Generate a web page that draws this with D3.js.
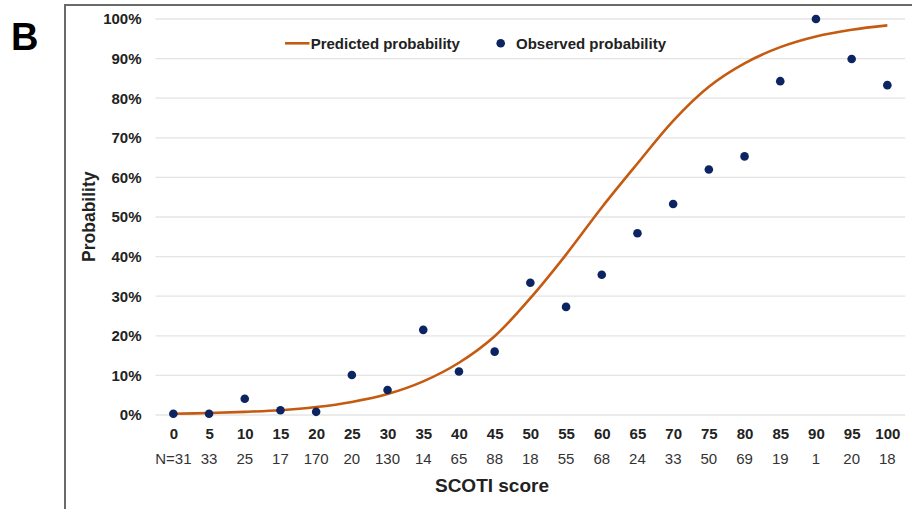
<!DOCTYPE html>
<html>
<head>
<meta charset="utf-8">
<script src="https://cdn.jsdelivr.net/npm/d3@7"></script>
<style>
  html, body { margin: 0; padding: 0; background: #fff; }
  svg { display: block; font-family: "Liberation Sans", Arial, sans-serif; }
</style>
</head>
<body>
<svg id="chart" width="912" height="509"></svg>
<script>
// ---- data ----
const scores = [0, 5, 10, 15, 20, 25, 30, 35, 40, 45, 50, 55, 60, 65, 70, 75, 80, 85, 90, 95, 100];
const nLabels = ["N=31", "33", "25", "17", "170", "20", "130", "14", "65", "88", "18", "55", "68", "24", "33", "50", "69", "19", "1", "20", "18"];
const predicted = [0.3, 0.5, 0.8, 1.2, 2.0, 3.3, 5.3, 8.5, 13.2, 19.9, 29.5, 40.5, 52.4, 63.5, 74.3, 82.9, 88.8, 92.9, 95.6, 97.3, 98.4];
const observed = [0.3, 0.3, 4.1, 1.2, 0.8, 10.1, 6.3, 21.5, 11.0, 16.0, 33.4, 27.3, 35.4, 45.9, 53.3, 62.0, 65.3, 84.3, 100, 89.9, 83.3];
const yTicks = [0, 10, 20, 30, 40, 50, 60, 70, 80, 90, 100];

const svg = d3.select("#chart");
const lineColor = "#c55a11";
const dotColor = "#0c2461";

// frame
svg.append("path")
  .attr("d", "M65,509 L65,5 L912,5")
  .attr("fill", "none").attr("stroke", "#6a6a6a").attr("stroke-width", 2);

// panel letter
svg.append("text").attr("x", 11).attr("y", 49.5)
  .attr("font-size", 38).attr("font-weight", "bold").attr("fill", "#000").text("B");

const x = d3.scalePoint().domain(scores).range([155.5, 905.2]).padding(0.5);
const y = d3.scaleLinear().domain([0, 100]).range([415, 19]);

// gridlines
svg.append("g").selectAll("line").data(yTicks).join("line")
  .attr("x1", 155.5).attr("x2", 905.2)
  .attr("y1", d => y(d)).attr("y2", d => y(d))
  .attr("stroke", "#e4e4e4").attr("stroke-width", 1.3);

// y axis labels via d3 axis
const yAxis = svg.append("g").attr("transform", "translate(155.5,0)")
  .call(d3.axisLeft(y).tickValues(yTicks).tickFormat(d => d + "%").tickSize(0).tickPadding(14));
yAxis.select(".domain").remove();
yAxis.selectAll("text").attr("font-size", 15).attr("font-weight", "bold")
  .attr("fill", "#222").attr("font-family", "Liberation Sans, Arial, sans-serif");

// x axis labels
const xAxis = svg.append("g").attr("transform", "translate(0,415)")
  .call(d3.axisBottom(x).tickSize(0).tickPadding(13));
xAxis.select(".domain").remove();
xAxis.selectAll("text").attr("font-size", 15).attr("font-weight", "bold")
  .attr("fill", "#222").attr("font-family", "Liberation Sans, Arial, sans-serif");

// N labels
svg.append("g").selectAll("text").data(scores).join("text")
  .attr("x", d => x(d)).attr("y", 464.3)
  .attr("text-anchor", "middle").attr("font-size", 15).attr("fill", "#333")
  .text((d, i) => nLabels[i]);

// axis titles
svg.append("text").attr("x", 492).attr("y", 491.7).attr("text-anchor", "middle")
  .attr("font-size", 19).attr("font-weight", "bold").attr("fill", "#222").text("SCOTI score");
svg.append("text").attr("transform", "translate(95,216.7) rotate(-90)").attr("text-anchor", "middle")
  .attr("font-size", 17.5).attr("font-weight", "bold").attr("fill", "#222").text("Probability");

// predicted line
const line = d3.line().x((d, i) => x(scores[i])).y(d => y(d)).curve(d3.curveCatmullRom.alpha(0.5));
svg.append("path").datum(predicted).attr("d", line)
  .attr("fill", "none").attr("stroke", lineColor).attr("stroke-width", 2.6);

// observed dots
svg.append("g").selectAll("circle").data(observed).join("circle")
  .attr("cx", (d, i) => x(scores[i])).attr("cy", d => y(d)).attr("r", 4.3)
  .attr("fill", dotColor);

// legend
const lg = svg.append("g");
lg.append("line").attr("x1", 285).attr("x2", 309.5).attr("y1", 43.3).attr("y2", 43.3)
  .attr("stroke", lineColor).attr("stroke-width", 2.6);
lg.append("text").attr("x", 310.7).attr("y", 48.5).attr("font-size", 15).attr("font-weight", "bold")
  .attr("fill", "#222").text("Predicted probability");
lg.append("circle").attr("cx", 500.7).attr("cy", 43.3).attr("r", 4.3).attr("fill", dotColor);
lg.append("text").attr("x", 516).attr("y", 48.5).attr("font-size", 15).attr("font-weight", "bold")
  .attr("fill", "#222").text("Observed probability");
</script>
</body>
</html>
